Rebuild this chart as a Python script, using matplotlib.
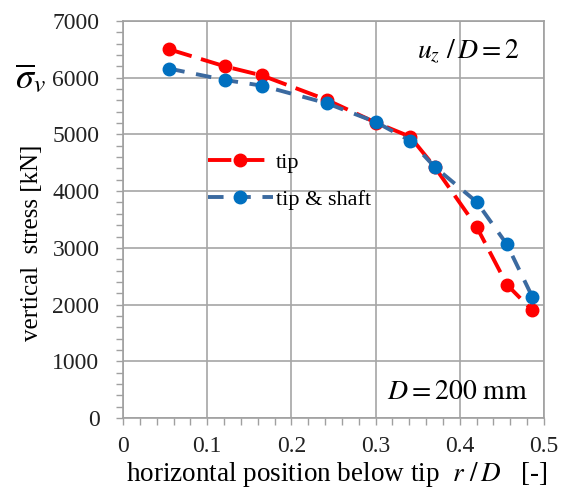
import matplotlib
matplotlib.use("Agg")
import matplotlib.pyplot as plt
from matplotlib.ticker import MultipleLocator

plt.rcParams['font.family'] = ['Liberation Serif', 'DejaVu Serif']
plt.rcParams['mathtext.fontset'] = 'stix'

r_over_D = [0.055, 0.121, 0.165, 0.242, 0.300, 0.341, 0.370, 0.420, 0.456, 0.486]
stress_tip = [6500, 6200, 6040, 5610, 5210, 4960, 4430, 3370, 2350, 1900]
stress_tip_shaft = [6160, 5960, 5860, 5550, 5220, 4890, 4430, 3810, 3060, 2140]
series_labels = ['tip', 'tip & shaft']
x_ticks = [0, 0.1, 0.2, 0.3, 0.4, 0.5]
x_tick_labels = ['0', '0.1', '0.2', '0.3', '0.4', '0.5']
y_ticks = [0, 1000, 2000, 3000, 4000, 5000, 6000, 7000]
y_tick_labels = ['0', '1000', '2000', '3000', '4000', '5000', '6000', '7000']

fig = plt.figure(figsize=(5.69, 4.90), dpi=100)
ax = fig.add_axes([123/569, 1 - 418/490, (544-123)/569, (418-21)/490])

ax.plot(r_over_D, stress_tip, color='#FF0000', lw=2.8, dashes=(6, 2.5),
        marker='o', ms=9, mfc='#FF0000', mec='#FF0000', label=series_labels[0], zorder=3)
ax.plot(r_over_D, stress_tip_shaft, color='#3B6AA0', lw=2.8, dashes=(4, 3),
        marker='o', ms=9, mfc='#0070C0', mec='#0070C0', label=series_labels[1], zorder=4)

ax.set_xlim(0, 0.5)
ax.set_ylim(0, 7000)
ax.set_xticks(x_ticks)
ax.set_xticklabels(x_tick_labels, fontfamily='Liberation Serif', fontsize=17)
ax.set_yticks(y_ticks)
ax.set_yticklabels(y_tick_labels, fontfamily='Liberation Serif', fontsize=17)
ax.xaxis.set_minor_locator(MultipleLocator(0.02))
ax.yaxis.set_minor_locator(MultipleLocator(200))
ax.tick_params(axis='both', which='major', direction='out', length=5, width=1,
               color='#A0A0A0', labelcolor='#222222')
ax.tick_params(axis='both', which='minor', direction='out', length=5, width=1,
               color='#A0A0A0')
ax.tick_params(axis='y', which='major', pad=12)
ax.tick_params(axis='x', which='major', pad=8)
ax.grid(True, which='major', color='#A6A6A6', lw=1.2)
for s in ax.spines.values():
    s.set_color('#A0A0A0')
    s.set_linewidth(1.2)
ax.set_axisbelow(True)

leg = ax.legend(loc='upper left', bbox_to_anchor=(0.155, 0.72), frameon=False,
                prop={'family': 'Liberation Serif', 'size': 16},
                handlelength=2.9, handletextpad=0.15, labelspacing=0.75)

ax.text(0.943, 0.925, r'$u_z\ /\,D = 2$', transform=ax.transAxes, ha='right', va='center',
        fontsize=20)
ax.text(0.962, 0.065, r'$D = \mathrm{200\ mm}$', transform=ax.transAxes, ha='right', va='center',
        fontsize=20)

fig.text(337/569, 1 - 474/490,
         r'horizontal position below tip  $r\ /\,D$   [-]', ha='center', va='center', fontsize=19.5)
fig.text(32/569, 1 - 243/490, 'vertical  stress [kN]', rotation=90, ha='center', va='center',
         fontsize=18)
fig.text(31/569, 1 - 80/490, r'$\overline{\sigma}_{v}$', ha='center', va='center', fontsize=26)

fig.savefig('out.png', dpi=100)
